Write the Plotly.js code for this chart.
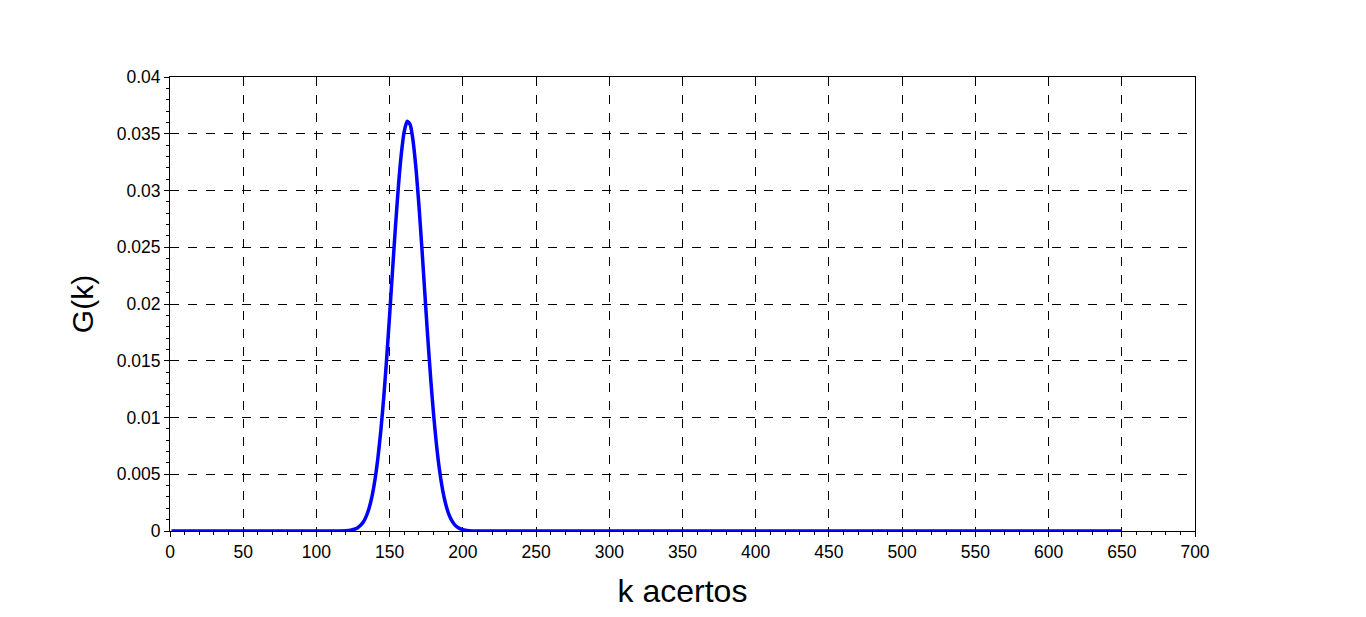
<!DOCTYPE html>
<html>
<head>
<meta charset="utf-8">
<script src="https://cdn.plot.ly/plotly-3.0.1.min.js"></script>
<style>html,body{margin:0;padding:0;background:#fff;}#plot{width:1366px;height:617px;}</style>
</head>
<body>
<div id="plot"></div>
<script>
// k values (acertos) and G(k) values
var kValues = [1, 110, 116, 120, 122, 124, 126, 128, 130, 132, 134, 136, 138, 140, 142, 144, 146, 148, 150, 152, 154, 156, 158, 160, 162, 164, 166, 168, 170, 172, 174, 176, 178, 180, 182, 184, 186, 188, 190, 192, 194, 196, 198, 200, 204, 210, 220, 650];
var gValues = [0, 0.0000006, 0.000005, 0.000022, 0.000043, 0.000083, 0.000153, 0.000274, 0.000474, 0.000795, 0.00129, 0.00203, 0.00308, 0.00453, 0.00645, 0.00888, 0.01183, 0.01526, 0.01904, 0.02299, 0.02687, 0.03039, 0.03326, 0.03523, 0.03610, 0.03581, 0.03437, 0.03192, 0.02869, 0.02496, 0.02101, 0.01711, 0.01349, 0.01029, 0.00759, 0.00542, 0.00375, 0.00251, 0.00162, 0.00102, 0.000617, 0.000362, 0.000205, 0.000113, 0.000031, 0.000002, 0, 0];
var xTicks = [0, 50, 100, 150, 200, 250, 300, 350, 400, 450, 500, 550, 600, 650, 700];
var yTicks = [0, 0.005, 0.01, 0.015, 0.02, 0.025, 0.03, 0.035, 0.04];
var yTickText = ["0", "0.005", "0.01", "0.015", "0.02", "0.025", "0.03", "0.035", "0.04"];

var trace = {
  x: kValues, y: gValues, type: 'scatter', mode: 'lines',
  line: {color: '#0000ff', width: 3.5, shape: 'spline', smoothing: 0.6},
  hoverinfo: 'skip'
};
var axisCommon = {
  showline: true, linecolor: '#000', linewidth: 1, mirror: true,
  ticks: 'outside', ticklen: 5, tickcolor: '#000', tickwidth: 1,
  showgrid: true, gridcolor: '#000', gridwidth: 1, griddash: 'dash',
  zeroline: false,
  tickfont: {family: 'Liberation Sans, Arial, sans-serif', size: 17.5, color: '#000'}
};
var layout = {
  width: 1366, height: 617,
  paper_bgcolor: '#fff', plot_bgcolor: '#fff',
  margin: {l: 170, r: 171, t: 77, b: 86},
  showlegend: false,
  xaxis: Object.assign({}, axisCommon, {
    range: [0, 700], tickmode: 'array', tickvals: xTicks, ticktext: xTicks.map(String),
    minor: {dtick: 10, ticks: 'outside', ticklen: 3, tickcolor: '#000', showgrid: false},
    title: {text: 'k acertos', font: {family: 'Liberation Sans, Arial, sans-serif', size: 32, color: '#000'}, standoff: 18}
  }),
  yaxis: Object.assign({}, axisCommon, {
    range: [0, 0.04], tickmode: 'array', tickvals: yTicks, ticktext: yTickText,
    minor: {dtick: 0.001, ticks: 'outside', ticklen: 3, tickcolor: '#000', showgrid: false},
    title: {text: 'G(k)', font: {family: 'Liberation Sans, Arial, sans-serif', size: 30, color: '#000'}, standoff: 14}
  })
};
Plotly.newPlot('plot', [trace], layout, {displayModeBar: false, staticPlot: true});
</script>
</body>
</html>
